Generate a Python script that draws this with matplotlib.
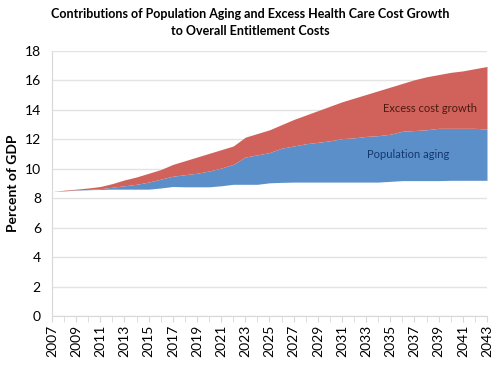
import matplotlib
matplotlib.use("Agg")
import matplotlib.pyplot as plt
import numpy as np

plt.rcParams['font.family'] = ['Lato', 'DejaVu Sans']

years = list(range(2007, 2044))
# Levels (percent of GDP)
baseline = [8.45, 8.50, 8.55, 8.58, 8.60, 8.62, 8.62, 8.62, 8.62, 8.70,
            8.80, 8.78, 8.78, 8.78, 8.85, 8.95, 8.95, 8.95, 9.05, 9.08,
            9.10, 9.10, 9.10, 9.10, 9.10, 9.10, 9.10, 9.10, 9.15, 9.20,
            9.20, 9.20, 9.20, 9.22, 9.22, 9.22, 9.22]
aging_level = [8.45, 8.52, 8.57, 8.60, 8.65, 8.75, 8.85, 8.95, 9.10, 9.30,
               9.50, 9.60, 9.70, 9.85, 10.05, 10.30, 10.80, 10.95, 11.10, 11.40,
               11.55, 11.70, 11.80, 11.90, 12.05, 12.10, 12.20, 12.25, 12.35, 12.55,
               12.60, 12.65, 12.75, 12.75, 12.75, 12.75, 12.70]
total_level = [8.45, 8.55, 8.62, 8.70, 8.80, 9.00, 9.25, 9.45, 9.70, 9.95,
               10.30, 10.55, 10.80, 11.05, 11.30, 11.55, 12.15, 12.40, 12.65, 13.00,
               13.35, 13.65, 13.95, 14.25, 14.55, 14.80, 15.05, 15.30, 15.55, 15.80,
               16.05, 16.25, 16.40, 16.55, 16.65, 16.80, 16.95]
series_labels = ["Excess cost growth", "Population aging"]
title = "Contributions of Population Aging and Excess Health Care Cost Growth\nto Overall Entitlement Costs"

x = np.array(years)
base = np.array(baseline)
aging = np.array(aging_level)
total = np.array(total_level)

fig = plt.figure(figsize=(5, 3.75), dpi=100)
ax = fig.add_axes([0.104, 0.157, 0.870, 0.707])

ax.fill_between(x, base, aging, color='#5b8fc9', linewidth=0)
ax.fill_between(x, aging, total, color='#d1625b', linewidth=0)

ax.set_xlim(2007, 2043)
ax.set_ylim(0, 18)
ax.set_yticks(np.arange(0, 19, 2))
ax.set_xticks(np.arange(2007, 2044, 2))
ax.set_xticks(np.arange(2007, 2044, 1), minor=True)
ax.tick_params(axis='x', labelrotation=90, labelsize=10, length=4, color='#d8d8d8', pad=2)
ax.tick_params(axis='x', which='minor', length=4, color='#d8d8d8')
ax.tick_params(axis='y', labelsize=10, length=0, pad=8)
ax.grid(axis='y', color='#e3e3e3', linewidth=1)
ax.set_axisbelow(True)
for s in ['top', 'right']:
    ax.spines[s].set_visible(False)
ax.spines['left'].set_color('#d8d8d8')
ax.spines['bottom'].set_color('#d8d8d8')

ax.set_ylabel("Percent of GDP", fontsize=10, fontweight='bold', labelpad=4)
fig.suptitle(title, fontsize=9, fontweight='bold', y=0.978, linespacing=1.45)

ax.text(2038.3, 14.1, series_labels[0], fontsize=8, color='#4a1a12', ha='center', va='center')
ax.text(2036.5, 10.95, series_labels[1], fontsize=8, color='#15386b', ha='center', va='center')

fig.savefig("out.png", dpi=100)
